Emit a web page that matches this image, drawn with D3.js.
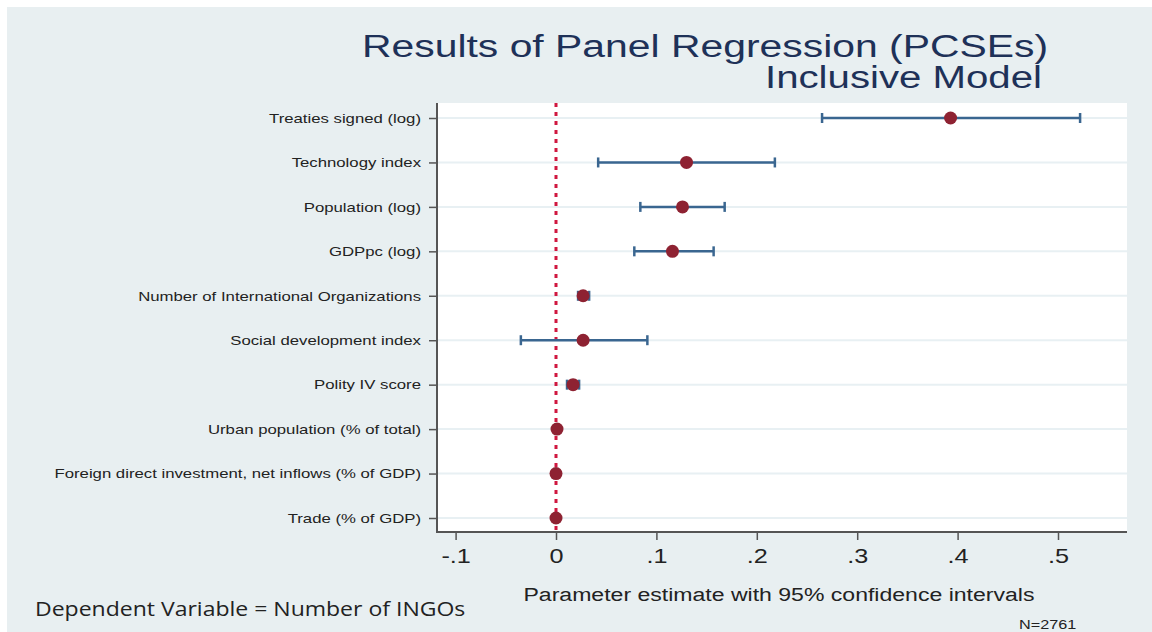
<!DOCTYPE html>
<html>
<head>
<meta charset="utf-8">
<script src="https://cdn.jsdelivr.net/npm/d3@7"></script>
<style>
  body { margin: 0; background: #ffffff; }
  svg { display: block; }
</style>
</head>
<body>
<div id="plot"></div>
<script>
var width = 1152;
var height = 632;

// coefficient estimates (top to bottom)
var variables = [
    'Treaties signed (log)',
    'Technology index',
    'Population (log)',
    'GDPpc (log)',
    'Number of International Organizations',
    'Social  development index',
    'Polity IV score',
    'Urban population (% of total)',
    'Foreign direct investment, net inflows (% of GDP)',
    'Trade (% of GDP)'
];
var estimates = [0.393, 0.130, 0.126, 0.116, 0.027, 0.027, 0.017, 0.001, 0.000, 0.000];
var ci_low    = [0.265, 0.042, 0.084, 0.078, 0.022, -0.035, 0.011, 0.000, -0.001, -0.001];
var ci_high   = [0.522, 0.218, 0.168, 0.157, 0.033, 0.091, 0.023, 0.002, 0.001, 0.001];
var x_ticks = [-0.1, 0, 0.1, 0.2, 0.3, 0.4, 0.5];

var plot_left = 437;
var plot_right = 1127;
var plot_top = 103;
var plot_bottom = 532;

// the source picture is stretched sideways, so widen text to match
var stretch = 1.28;

function widen(sel, factor) {
    sel.each(function() {
        var len = this.getComputedTextLength();
        d3.select(this)
            .attr('textLength', len * factor)
            .attr('lengthAdjust', 'spacingAndGlyphs');
    });
}

var canvas = d3.select('#plot')
    .append('svg')
    .attr('width', width)
    .attr('height', height);

// outer grey-blue panel
canvas.append('rect')
    .attr('x', 7).attr('y', 7)
    .attr('width', width - 7).attr('height', height - 7)
    .attr('fill', '#e8eff1');

// white plot region
canvas.append('rect')
    .attr('x', plot_left).attr('y', plot_top)
    .attr('width', plot_right - plot_left).attr('height', plot_bottom - plot_top)
    .attr('fill', 'white');

var x_scale = d3.scaleLinear()
    .domain([0, 0.5])
    .range([556, 1058]);

var y_scale = d3.scalePoint()
    .domain(variables)
    .range([118, 518]);

// horizontal grid lines
canvas.selectAll('line.grid')
    .data(variables)
    .enter()
    .append('line')
    .attr('class', 'grid')
    .attr('x1', plot_left)
    .attr('x2', plot_right)
    .attr('y1', function(d) { return y_scale(d); })
    .attr('y2', function(d) { return y_scale(d); })
    .attr('stroke', '#e8f0f3')
    .attr('stroke-width', 2);

// y axis
var y_axis = d3.axisLeft()
    .scale(y_scale)
    .tickSize(8)
    .tickPadding(8);

var yg = canvas.append('g')
    .attr('class', 'y-axis')
    .attr('transform', 'translate(' + plot_left + ',0)')
    .call(y_axis);
yg.select('.domain').remove();
yg.selectAll('line').attr('stroke', '#555').attr('stroke-width', 1.5);
yg.selectAll('text')
    .attr('font-family', 'Liberation Sans, Arial, sans-serif')
    .attr('font-size', 13.5)
    .attr('fill', '#222')
    .call(widen, 1.24);
canvas.append('line')
    .attr('x1', plot_left).attr('x2', plot_left)
    .attr('y1', plot_top).attr('y2', plot_bottom + 1)
    .attr('stroke', '#555').attr('stroke-width', 2);

// x axis
var x_axis = d3.axisBottom()
    .scale(x_scale)
    .tickValues(x_ticks)
    .tickSize(8)
    .tickPadding(8)
    .tickFormat(function(d) {
        if (d === 0) return '0';
        return (d < 0 ? '-' : '') + d3.format('.1f')(Math.abs(d)).replace('0.', '.');
    });

var xg = canvas.append('g')
    .attr('class', 'x-axis')
    .attr('transform', 'translate(0,' + plot_bottom + ')')
    .call(x_axis);
xg.select('.domain').remove();
xg.selectAll('line').attr('stroke', '#555').attr('stroke-width', 1.5);
xg.selectAll('text')
    .attr('font-family', 'Liberation Sans, Arial, sans-serif')
    .attr('font-size', 21)
    .attr('fill', '#222')
    .call(widen, 1.2);
canvas.append('line')
    .attr('x1', plot_left).attr('x2', plot_right)
    .attr('y1', plot_bottom).attr('y2', plot_bottom)
    .attr('stroke', '#555').attr('stroke-width', 2);

// zero reference line
canvas.append('line')
    .attr('x1', x_scale(0)).attr('x2', x_scale(0))
    .attr('y1', plot_top).attr('y2', plot_bottom)
    .attr('stroke', '#d0173f')
    .attr('stroke-width', 3)
    .attr('stroke-dasharray', '4,5');

// confidence intervals
var ci = variables.map(function(v, i) {
    return { name: v, est: estimates[i], lo: ci_low[i], hi: ci_high[i] };
});

canvas.selectAll('line.ci')
    .data(ci)
    .enter()
    .append('line')
    .attr('class', 'ci')
    .attr('x1', function(d) { return x_scale(d.lo); })
    .attr('x2', function(d) { return x_scale(d.hi); })
    .attr('y1', function(d) { return y_scale(d.name); })
    .attr('y2', function(d) { return y_scale(d.name); })
    .attr('stroke', '#3a6690')
    .attr('stroke-width', 2.5);

var caps = [];
ci.forEach(function(d) {
    caps.push([d.name, d.lo]);
    caps.push([d.name, d.hi]);
});

canvas.selectAll('line.cap')
    .data(caps)
    .enter()
    .append('line')
    .attr('class', 'cap')
    .attr('x1', function(d) { return x_scale(d[1]); })
    .attr('x2', function(d) { return x_scale(d[1]); })
    .attr('y1', function(d) { return y_scale(d[0]) - 5; })
    .attr('y2', function(d) { return y_scale(d[0]) + 5; })
    .attr('stroke', '#3a6690')
    .attr('stroke-width', 2.5);

canvas.selectAll('circle.est')
    .data(ci)
    .enter()
    .append('circle')
    .attr('class', 'est')
    .attr('cx', function(d) { return x_scale(d.est); })
    .attr('cy', function(d) { return y_scale(d.name); })
    .attr('r', 6.5)
    .attr('fill', '#8e2232');

// titles
canvas.append('text')
    .attr('x', 1048).attr('y', 57)
    .attr('text-anchor', 'end')
    .attr('font-family', 'Liberation Sans, Arial, sans-serif')
    .attr('font-size', 31)
    .attr('fill', '#1e3158')
    .attr('textLength', 686)
    .attr('lengthAdjust', 'spacingAndGlyphs')
    .text('Results of Panel Regression (PCSEs)');

canvas.append('text')
    .attr('x', 1042).attr('y', 88)
    .attr('text-anchor', 'end')
    .attr('font-family', 'Liberation Sans, Arial, sans-serif')
    .attr('font-size', 31)
    .attr('fill', '#1e3158')
    .attr('textLength', 277)
    .attr('lengthAdjust', 'spacingAndGlyphs')
    .text('Inclusive Model');

canvas.append('text')
    .attr('x', 779).attr('y', 601)
    .attr('text-anchor', 'middle')
    .attr('font-family', 'Liberation Sans, Arial, sans-serif')
    .attr('font-size', 18)
    .attr('fill', '#222')
    .text('Parameter estimate with 95% confidence intervals')
    .call(widen, 1.28);

canvas.append('text')
    .attr('x', 1019).attr('y', 629)
    .attr('font-family', 'Liberation Sans, Arial, sans-serif')
    .attr('font-size', 12)
    .attr('fill', '#222')
    .text('N=2761')
    .call(widen, 1.35);

canvas.append('text')
    .attr('x', 35).attr('y', 616)
    .attr('font-family', 'Open Sans, Noto Sans, sans-serif')
    .attr('font-size', 20)
    .attr('fill', '#222')
    .text('Dependent Variable = Number of INGOs')
    .call(widen, 1.15);
</script>
</body>
</html>
